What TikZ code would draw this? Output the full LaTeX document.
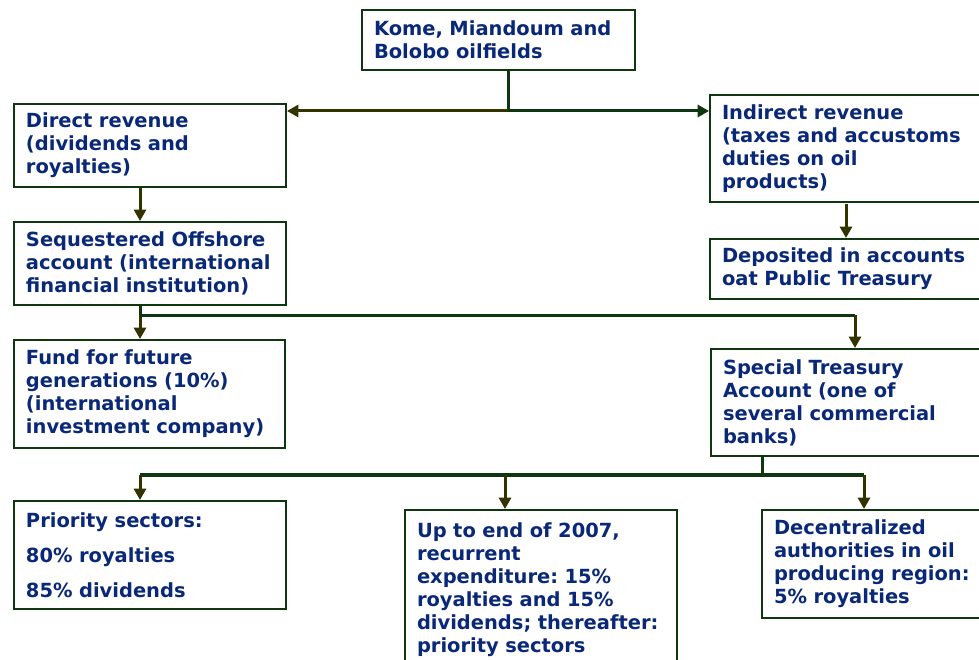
\documentclass[tikz,border=0pt]{standalone}
\usepackage{fontspec}
\setmainfont{DejaVu Sans}
\usetikzlibrary{arrows.meta}
\definecolor{txt}{RGB}{10,40,120}
\definecolor{bord}{RGB}{15,55,15}
\definecolor{oliv}{RGB}{51,51,0}
\frenchspacing
\begin{document}
\begin{tikzpicture}[x=0.75pt,y=-0.75pt,
 box/.style={draw=bord, line width=1.5pt, fill=white, anchor=north west, inner sep=0pt, align=left, text=txt, font=\fontsize{14.6}{17.3}\selectfont\bfseries},
 conn/.style={draw=bord, line width=2.25pt},
 arr/.style={draw=oliv, fill=oliv, line width=2.25pt, -{Triangle[width=9pt,length=8.5pt]}}]
\clip (0,0) rectangle (979,660);
\fill[white] (0,0) rectangle (979,660);
% boxes
\node[box, minimum width=204.75pt, minimum height=45pt, text width=186.75pt] (kome) at (361,9) {Kome, Miandoum and\\Bolobo oilfields};
\node[box, minimum width=204pt, minimum height=62.25pt, text width=186pt] (direct) at (13,103) {Direct revenue\\(dividends and\\royalties)};
\node[box, minimum width=204pt, minimum height=62.25pt, text width=186pt] (seq) at (13,221) {Sequestered Offshore\\account (international\\financial institution)};
\node[box, minimum width=203.25pt, minimum height=81pt, text width=185.25pt] (fund) at (13,339) {Fund for future\\generations (10\%)\\(international\\investment company)};
\node[box, minimum width=207pt, minimum height=80.25pt, text width=189pt] (indirect) at (709,94) {Indirect revenue\\(taxes and accustoms\\duties on oil\\products)};
\node[box, minimum width=207pt, minimum height=45pt, text width=189pt] (deposited) at (709,238) {Deposited in accounts\\oat Public Treasury};
\node[box, minimum width=206pt, minimum height=80.25pt, text width=188pt] (special) at (710,348) {Special Treasury\\Account (one of\\several commercial\\banks)};
\node[box, minimum width=204pt, minimum height=81pt, text width=186pt] (priority) at (13,500) {Priority sectors:\\[9pt]80\% royalties\\[9pt]85\% dividends};
\node[box, minimum width=204pt, minimum height=120pt, text width=186pt] (upto) at (404,509) {Up to end of 2007,\\recurrent\\expenditure: 15\%\\royalties and 15\%\\dividends; thereafter:\\priority sectors};
\node[box, minimum width=168pt, minimum height=81pt, text width=150pt] (decentral) at (761,509) {Decentralized\\authorities in oil\\producing region:\\5\% royalties};
% connectors
\coordinate (j1) at (508,111);
\draw[conn] (kome.south -| j1) -- (j1);
\draw[arr] (j1) -- (direct.east |- j1);
\draw[arr, draw=bord, fill=bord] (j1) -- (indirect.west |- j1);
\coordinate (cA) at (140,315);
\coordinate (cB) at (855,315);
\draw[arr] (direct.south -| cA) -- (seq.north -| cA);
\draw[conn] (seq.south -| cA) -- (cA);
\draw[arr] (cA) -- (fund.north -| cA);
\draw[conn] (cA) -- (cB);
\draw[arr] (cB) -- (special.north -| cB);
\coordinate (cC) at (846,204);
\draw[arr] (cC) -- (deposited.north -| cC);
\coordinate (cD) at (762,475);
\coordinate (cE) at (140,475);
\coordinate (cF) at (505,475);
\coordinate (cG) at (864,475);
\draw[conn] (special.south -| cD) -- (cD);
\draw[conn, line width=2.6pt] (cE) -- (cG);
\draw[arr] (cE) -- (priority.north -| cE);
\draw[arr] (cF) -- (upto.north -| cF);
\draw[arr] (cG) -- (decentral.north -| cG);
\end{tikzpicture}
\end{document}
